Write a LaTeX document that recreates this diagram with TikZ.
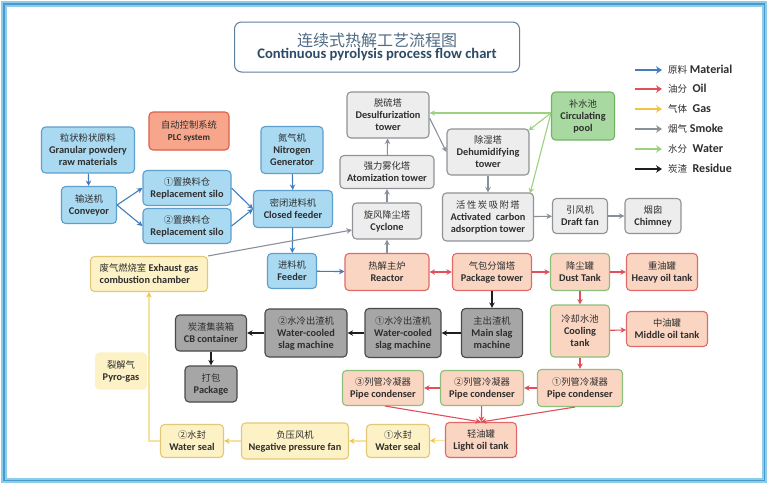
\documentclass[tikz,border=0pt]{standalone}
\usepackage{fontspec}
\setmainfont{Carlito}
\newfontfamily\cjk{Noto Sans CJK SC}
\usetikzlibrary{arrows.meta,calc}
\definecolor{txt}{HTML}{2E2E2E}
\definecolor{bluF}{HTML}{A9DAF2}
\definecolor{bluD}{HTML}{5E9FCC}
\definecolor{smkF}{HTML}{EDEDED}
\definecolor{smkD}{HTML}{8F9398}
\definecolor{resF}{HTML}{A6A6A6}
\definecolor{resD}{HTML}{4A4A4A}
\definecolor{oilF}{HTML}{FAD5C2}
\definecolor{oilD}{HTML}{E06A6A}
\definecolor{grnD}{HTML}{8CBF7C}
\definecolor{gasF}{HTML}{FDF1C6}
\definecolor{gasD}{HTML}{E2C977}
\definecolor{watF}{HTML}{A8D9A0}
\definecolor{watD}{HTML}{74B466}
\definecolor{plcF}{HTML}{F7A68B}
\definecolor{plcD}{HTML}{DD5E4B}
\definecolor{aBlue}{HTML}{3F7DBF}
\definecolor{aRed}{HTML}{E04F5A}
\definecolor{aYel}{HTML}{F2C443}
\definecolor{aYelL}{HTML}{F5E2A0}
\definecolor{aSmk}{HTML}{8A9098}
\definecolor{aGrn}{HTML}{9CD27F}
\definecolor{aBlk}{HTML}{1E1E1E}
\definecolor{frameL}{HTML}{8CCDEB}
\definecolor{frameD}{HTML}{4C9ACB}
\definecolor{titleD}{HTML}{5F7E9B}
\definecolor{titleT}{HTML}{2D4B66}
\newcommand\zh[1]{{\cjk\mdseries\fontsize{9.3}{12}\selectfont #1}}
\newcommand\zl[1]{{\cjk\mdseries\fontsize{9.5}{11}\selectfont #1}}
\tikzset{
  box/.style={draw, rounded corners=4pt, line width=1.1pt, align=center, inner sep=1pt,
    font=\fontsize{10.3}{12}\selectfont\bfseries, text=txt},
  sz/.style 2 args={minimum width=#1pt, minimum height=#2pt},
  blu/.style={box, fill=bluF, draw=bluD},
  smk/.style={box, fill=smkF, draw=smkD},
  res/.style={box, fill=resF, draw=resD},
  oil/.style={box, fill=oilF, draw=oilD},
  oilg/.style={box, fill=oilF, draw=grnD},
  gas/.style={box, fill=gasF, draw=gasD},
  wat/.style={box, fill=watF, draw=watD},
  plc/.style={box, fill=plcF, draw=plcD},
  ar/.style={-{Stealth[length=5.5pt,width=5.5pt]}, line width=1.1pt},
  aB/.style={ar, draw=aBlue, -{Stealth[length=5.5pt,width=5.5pt,color=aBlue]}},
  aR/.style={ar, draw=aRed},
  aY/.style={ar, draw=aYelL, -{Stealth[length=5.5pt,width=5.5pt,color=aYel]}},
  aS/.style={ar, draw=aSmk},
  aW/.style={ar, draw=aGrn},
  aK/.style={ar, draw=aBlk},
  lg/.style={line width=2.6pt, -{Stealth[length=6pt,width=7.5pt]}},
  lgtxt/.style={anchor=west, inner sep=0pt, font=\fontsize{12}{13}\selectfont\bfseries, text=txt},
}
\begin{document}
\begin{tikzpicture}[x=1pt,y=-1pt]
\useasboundingbox (0,0) rectangle (768,485);
\fill[white] (0,0) rectangle (768,485);
% frame
\draw[line width=5.5pt, frameL] (4,4) rectangle (764.5,480.5);
\draw[line width=1.1pt, frameD] (4,4) rectangle (764.5,480.5);

% title
\node[draw=titleD, rounded corners=7pt, line width=1pt, fill=white, minimum width=285pt, minimum height=50pt, align=center, inner sep=1pt] (title) at (377,47)
  {{\cjk\fontsize{16}{21}\selectfont\color{titleD!85!black}连续式热解工艺流程图}\\{\fontsize{14.6}{16}\selectfont\bfseries\color{titleT}Continuous pyrolysis process flow chart}};

% legend
\foreach \i/\c/\y in {1/aBlue/70,2/aRed/89,3/aYel/109,4/aSmk/129,5/aGrn/149,6/aBlk/169}{
  \coordinate (la\i) at (635,\y);
  \coordinate (lb\i) at (662,\y);
  \draw[lg, \c] (la\i) -- (lb\i);
}
\node[lgtxt] (lt1) at (668,70) {\zl{原料} Material};
\node[lgtxt] (lt2) at (668,89) {\zl{油分} ~Oil};
\node[lgtxt] (lt3) at (668,109) {\zl{气体} ~Gas};
\node[lgtxt] (lt4) at (668,129) {\zl{烟气} Smoke};
\node[lgtxt] (lt5) at (668,149) {\zl{水分} ~Water};
\node[lgtxt] (lt6) at (668,169) {\zl{炭渣} ~Residue};

% nodes
\node[blu,sz={93}{46}] (raw) at (88,150) {\zh{粒状粉状原料}\\Granular powdery\\raw materials};
\node[plc,sz={80}{38},font=\fontsize{9.2}{12}\selectfont\bfseries] (plc) at (189,131) {\zh{自动控制系统}\\PLC system};
\node[blu,sz={62}{47}] (nit) at (292,150) {\zh{氮气机}\\Nitrogen\\Generator};
\node[blu,sz={55}{37}] (conv) at (89,205) {\zh{输送机}\\Conveyor};
\node[blu,sz={88}{35}] (s1) at (187,188) {\zh{①置换料仓}\\Replacement silo};
\node[blu,sz={88}{35}] (s2) at (187,226) {\zh{②置换料仓}\\Replacement silo};
\node[blu,sz={79}{37}] (cf) at (293,209) {\zh{密闭进料机}\\Closed feeder};
\node[smk,sz={82}{46}] (des) at (388,115) {\zh{脱硫塔}\\Desulfurization\\tower};
\node[wat,sz={63}{48}] (pool) at (583,116) {\zh{补水池}\\Circulating\\pool};
\node[smk,sz={82}{46}] (dehum) at (488,152) {\zh{除湿塔}\\Dehumidifying\\tower};
\node[smk,sz={94}{33}] (atom) at (387,172) {\zh{强力雾化塔}\\Atomization tower};
\node[smk,sz={91}{48}] (act) at (488,217) {\zh{活\,性\,炭\,吸\,附\,塔}\\Activated~ carbon\\adsorption tower};
\node[smk,sz={69}{36}] (cyc) at (387,221) {\zh{旋风降尘塔}\\Cyclone};
\node[smk,sz={55}{35}] (draft) at (580,216) {\zh{引风机}\\Draft fan};
\node[smk,sz={56}{35}] (chim) at (653,216) {\zh{烟囱}\\Chimney};
\node[gas,sz={117}{35},align=left] (exh) at (149,274) {\zh{废气燃烧室} Exhaust gas\\combustion chamber};
\node[blu,sz={49}{35}] (feed) at (292,271) {\zh{进料机}\\Feeder};
\node[oil,sz={84}{37}] (reac) at (387,272) {\zh{热解主炉}\\Reactor};
\node[oil,sz={79}{37}] (pkg) at (492,272) {\zh{气包分馏塔}\\Package tower};
\node[oilg,sz={59}{37}] (dust) at (580,272) {\zh{降尘罐}\\Dust Tank};
\node[oil,sz={71}{37}] (heavy) at (662,272) {\zh{重油罐}\\Heavy oil tank};
\node[res,sz={71}{36}] (cb) at (211,333) {\zh{炭渣集装箱}\\CB container};
\node[res,sz={82}{48}] (wc2) at (306,333) {\zh{②水冷出渣机}\\Water-cooled\\slag machine};
\node[res,sz={76}{49}] (wc1) at (403,333) {\zh{①水冷出渣机}\\Water-cooled\\slag machine};
\node[res,sz={61}{49}] (main) at (492,333) {\zh{主出渣机}\\Main slag\\machine};
\node[oilg,sz={59}{52}] (cool) at (580,331) {\zh{冷却水池}\\Cooling\\tank};
\node[oil,sz={81}{35}] (mid) at (667,329) {\zh{中油罐}\\Middle oil tank};
\node[res,sz={52}{36}] (pack) at (211,384) {\zh{打包}\\Package};
\node[gas,draw=gasF,sz={51}{36}] (pyro) at (121,371) {\zh{裂解气}\\Pyro-gas};
\node[oilg,sz={81}{35}] (pc3) at (383,388) {\zh{③列管冷凝器}\\Pipe condenser};
\node[oilg,sz={83}{35}] (pc2) at (482,388) {\zh{②列管冷凝器}\\Pipe condenser};
\node[oilg,sz={85}{37}] (pc1) at (580,388) {\zh{①列管冷凝器}\\Pipe condenser};
\node[oil,sz={71}{35}] (light) at (481,440) {\zh{轻油罐}\\Light oil tank};
\node[gas,sz={63}{33}] (ws1) at (398,441) {\zh{①水封}\\Water seal};
\node[gas,sz={107}{36}] (fan) at (295,441) {\zh{负压风机}\\Negative pressure fan};
\node[gas,sz={63}{33}] (ws2) at (192,441) {\zh{②水封}\\Water seal};

% material (blue)
\draw[aB] (raw) -- (conv);
\draw[aB] (conv.east) -- (s1.west);
\draw[aB] (conv.east) -- (s2.west);
\draw[aB] (s1.east) -- (cf.west);
\draw[aB] (s2.east) -- (cf.west);
\draw[aB] (nit) -- (cf);
\draw[aB] (cf) -- (feed);
\draw[aB] (feed) -- (reac);

% smoke (gray)
\draw[aS] (exh.north east) -- ([yshift=-9pt]cyc.west);
\draw[aS] (reac) -- (cyc);
\draw[aS] (cyc) -- (atom);
\draw[aS] (atom) -- (des);
\draw[aS] ([yshift=-3pt]des.east) -- (dehum.west);
\draw[aS] (dehum) -- (act);
\draw[aS] (act) -- (draft);
\draw[aS] (draft) -- (chim);

% water (green)
\coordinate (pj) at ([yshift=3pt]pool.west);
\draw[aW] (pj) -- (pj -| des.east);
\draw[aW] (pj) -- ([xshift=-1pt,yshift=-2pt]dehum.north east);
\draw[aW] (pj) -- ([xshift=-4pt,yshift=-1pt]act.north east);

% oil (red)
\draw[aR, {Stealth[length=5.5pt,width=5.5pt]}-{Stealth[length=5.5pt,width=5.5pt]}] (reac) -- (pkg);
\draw[aR] (pkg) -- (dust);
\draw[aR] (dust) -- (heavy);
\draw[aR] (dust) -- (cool);
\draw[aR] (cool) -- (mid);
\draw[aR] (cool) -- (pc1);
\draw[aR] (pc1) -- (pc2);
\draw[aR] (pc2) -- (pc3);
\draw[aR] ([xshift=2pt]pc3.south) -- (light.north);
\draw[aR] (pc2) -- (light);
\draw[aR] ([xshift=-5pt]pc1.south) -- (light.north);

% residue (black)
\draw[aK] (pkg) -- (main);
\draw[aK] (main) -- (wc1);
\draw[aK] (wc1) -- (wc2);
\draw[aK] (wc2) -- (cb);
\draw[aK] (cb) -- (pack);

% gas (yellow)
\draw[aY] (light) -- (ws1);
\draw[aY] (ws1) -- (fan);
\draw[aY] (fan) -- (ws2);
\draw[aY] (ws2.west) -| (exh.south);
\end{tikzpicture}
\end{document}
